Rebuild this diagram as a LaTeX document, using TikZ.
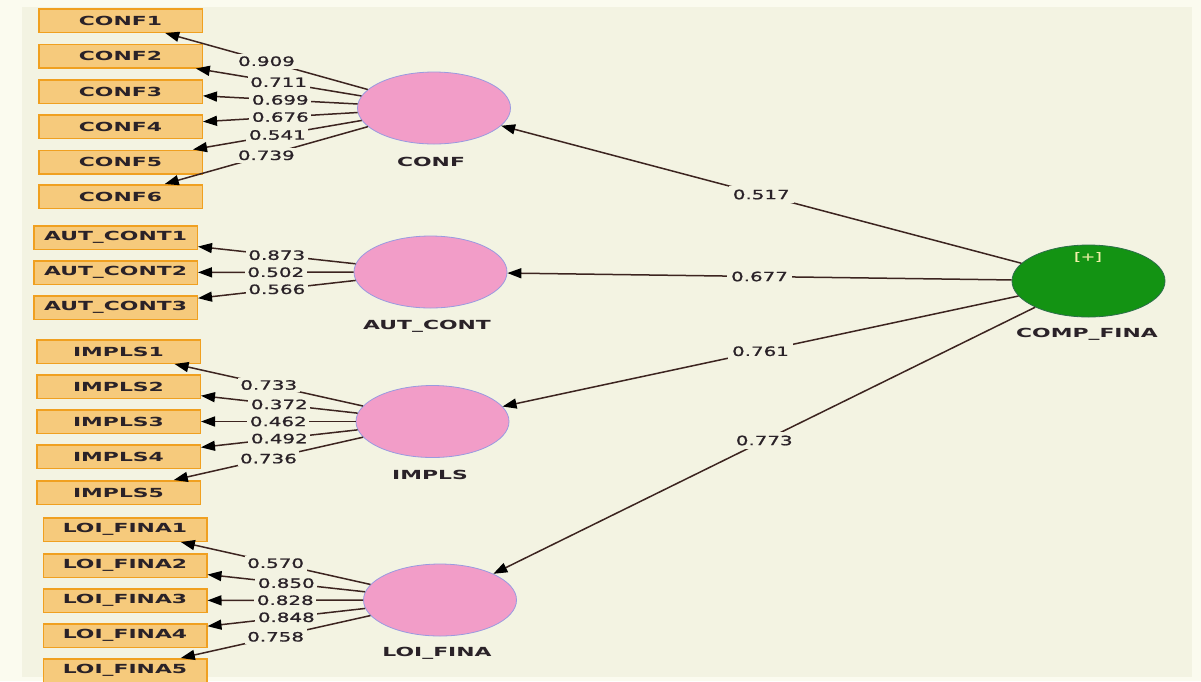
\documentclass[tikz,border=0pt]{standalone}
\usepackage{fontspec}
\usetikzlibrary{shapes.geometric,arrows.meta}
\newfontfamily\bfont[FakeStretch=1.75]{DejaVu Sans Bold}
\newfontfamily\dfont[FakeStretch=1.55,FakeBold=1.2]{DejaVu Sans}
\definecolor{margin}{HTML}{FBFBEF}
\definecolor{panel}{HTML}{F3F3E2}
\definecolor{boxfill}{HTML}{F6CA7C}
\definecolor{boxline}{HTML}{F0A020}
\definecolor{pinkfill}{HTML}{F29DC8}
\definecolor{pinkline}{HTML}{9A9AE0}
\definecolor{greenfill}{HTML}{139313}
\definecolor{greenline}{HTML}{2C6E4A}
\definecolor{edge}{HTML}{3C2420}
\definecolor{txt}{HTML}{2A2228}
\definecolor{plus}{HTML}{F2F0A8}
\begin{document}
\begin{tikzpicture}[x=1pt,y=-1pt,
  ind/.style={draw=boxline, fill=boxfill, line width=1.5pt, minimum width=163.5pt, minimum height=23.5pt, inner sep=0pt, font=\bfont\fontsize{12.5}{14}\selectfont, text=txt},
  lat/.style={ellipse, draw=pinkline, fill=pinkfill, line width=0.8pt, minimum width=153pt, minimum height=72pt, inner sep=0pt},
  latname/.style={font=\bfont\fontsize{12.5}{14}\selectfont, text=txt, inner sep=1pt},
  ld/.style={draw=edge, line width=1.5pt, -{Triangle[length=14pt,width=10pt,color=black]}},
  coef/.style={fill=panel, inner sep=2.5pt, font=\dfont\fontsize{12.8}{14}\selectfont, text=txt}]
\useasboundingbox (0,0) rectangle (1201,681);
\clip (0,0) rectangle (1201,681);
\fill[margin] (0,0) rectangle (1201,681);
\fill[panel] (22,7) rectangle (1192,677);

% latent variables
\node[lat] (conf) at (434,108) {};
\node[lat] (aut) at (430.5,272) {};
\node[lat] (impl) at (432.5,421.5) {};
\node[lat] (loi) at (440,600) {};
\node[lat, draw=greenline, fill=greenfill] (comp) at (1088.5,281) {};
\node[font=\dfont\fontsize{11}{12}\selectfont, text=plus, inner sep=0pt] (plus) at (1088,257) {[+]};

\node[latname] (confname) at (431,162) {CONF};
\node[latname] (autname) at (427,326) {AUT\_CONT};
\node[latname] (implname) at (430,475) {IMPLS};
\node[latname] (loiname) at (437,653) {LOI\_FINA};
\node[latname] (compname) at (1087,334) {COMP\_FINA};

% indicators
\foreach \n/\y in {1/20.5,2/56,3/91.5,4/126.5,5/162,6/196.5}
  \node[ind] (c\n) at (120.5,\y) {CONF\n};
\foreach \n/\y in {1/237.5,2/272.5,3/307.5}
  \node[ind] (a\n) at (115.5,\y) {AUT\_CONT\n};
\foreach \n/\y in {1/351.5,2/386.5,3/421.5,4/456.5,5/492.5}
  \node[ind] (i\n) at (118.5,\y) {IMPLS\n};
\foreach \n/\y in {1/529.5,2/565.5,3/600.5,4/635.5,5/670.5}
  \node[ind] (l\n) at (125,\y) {LOI\_FINA\n};

% connectors
\foreach \n in {1,...,6} \draw[ld] (conf) -- (c\n);
\foreach \n in {1,2,3} \draw[ld] (aut) -- (a\n);
\foreach \n in {1,...,5} \draw[ld] (impl) -- (i\n);
\foreach \n in {1,...,5} \draw[ld] (loi) -- (l\n);
\draw[ld] (comp) -- (conf);
\draw[ld] (comp) -- (aut);
\draw[ld] (comp) -- (impl);
\draw[ld] (comp) -- (loi);

% coefficients
\foreach \n/\v in {1/0.909,2/0.711,3/0.699,4/0.676,5/0.541,6/0.739}
  \path (conf) -- (c\n) node[coef, midway] {\v};
\foreach \n/\v in {1/0.873,2/0.502,3/0.566}
  \path (aut) -- (a\n) node[coef, midway] {\v};
\foreach \n/\v in {1/0.733,2/0.372,3/0.462,4/0.492,5/0.736}
  \path (impl) -- (i\n) node[coef, midway] {\v};
\foreach \n/\v in {1/0.570,2/0.850,3/0.828,4/0.848,5/0.758}
  \path (loi) -- (l\n) node[coef, midway] {\v};
\path (comp) -- (conf) node[coef, midway, inner sep=4pt] {0.517};
\path (comp) -- (aut) node[coef, midway, inner sep=4pt] {0.677};
\path (comp) -- (impl) node[coef, midway, inner sep=4pt] {0.761};
\path (comp) -- (loi) node[coef, midway, inner sep=4pt] {0.773};
\end{tikzpicture}
\end{document}
